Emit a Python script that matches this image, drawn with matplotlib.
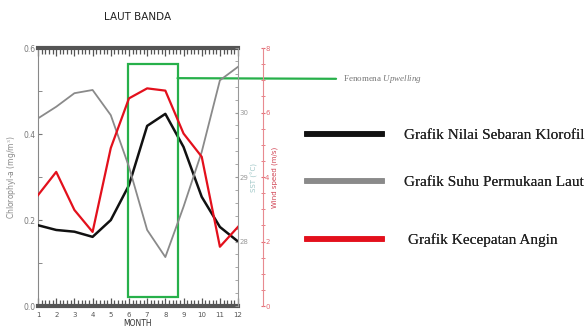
import matplotlib
matplotlib.use("Agg")
import matplotlib.pyplot as plt
from matplotlib.lines import Line2D
from matplotlib.patches import Rectangle
from matplotlib.ticker import MultipleLocator

plt.rcParams["mathtext.fontset"] = "custom"
plt.rcParams["mathtext.rm"] = "Liberation Serif"
plt.rcParams["mathtext.it"] = "Liberation Serif:italic"

# Monthly climatology, Laut Banda
months = [1, 2, 3, 4, 5, 6, 7, 8, 9, 10, 11, 12]
chl = [0.188, 0.177, 0.173, 0.161, 0.200, 0.281, 0.419, 0.447, 0.370, 0.254, 0.184, 0.150]
sst = [29.91, 30.09, 30.30, 30.35, 29.96, 29.16, 28.18, 27.76, 28.54, 29.39, 30.50, 30.71]
wind = [3.44, 4.16, 2.98, 2.30, 4.90, 6.44, 6.75, 6.68, 5.35, 4.63, 1.84, 2.46]

# upwelling window (months) and chl range of the highlight box
upwelling_months = (5.94, 8.67)
upwelling_chl = (0.021, 0.563)

legend_labels = ["Grafik Nilai Sebaran Klorofil", "Grafik Suhu Permukaan Laut",
                 "Grafik Kecepatan Angin"]
legend_colors = ["#111111", "#8a8a8a", "#e3101c"]

fig = plt.figure(figsize=(5.85, 3.36), dpi=100)
ax = fig.add_axes([0.065, 0.089, 0.342, 0.768])
ax2 = ax.twinx()
ax3 = ax.twinx()

ax.plot(months, chl, color="#111111", lw=1.8, zorder=3)
ax2.plot(months, sst, color="#8a8a8a", lw=1.3)
ax3.plot(months, wind, color="#e3101c", lw=1.6)

ax.set_xlim(1, 12)
ax.set_ylim(0, 0.6)
ax2.set_ylim(27, 31)
ax3.set_ylim(0, 8)

ax.set_xticks(months)
ax.xaxis.set_minor_locator(MultipleLocator(0.2))
ax.set_yticks([0.0, 0.2, 0.4, 0.6])
ax.yaxis.set_minor_locator(MultipleLocator(0.1))
ax.tick_params(axis="x", which="both", direction="in", top=True, bottom=True,
               colors="#555555", labelsize=5, pad=4)
ax.tick_params(axis="x", which="minor", length=4, width=0.9)
ax.tick_params(axis="x", which="major", length=6, width=0.9)
ax.tick_params(axis="y", which="both", direction="in", colors="#777777",
               labelsize=5.5, length=3, pad=2)
for s in ["top", "bottom"]:
    ax.spines[s].set_linewidth(3)
    ax.spines[s].set_color("#555555")
ax.spines["left"].set_color("#888888")
ax.spines["right"].set_visible(False)

ax2.set_yticks([28, 29, 30])
ax2.yaxis.set_minor_locator(MultipleLocator(0.2))
ax2.tick_params(axis="y", which="both", direction="in", colors="#9a9a9a",
                labelsize=5, length=2.5, pad=1)
for s in ["top", "bottom", "left"]:
    ax2.spines[s].set_visible(False)
ax2.spines["right"].set_color("#999999")
ax2.set_ylabel("SST (°C)", color="#9fc7c7", fontsize=5, rotation=90, labelpad=2)

ax3.spines["right"].set_position(("outward", 18))
ax3.spines["right"].set_color("#e88a90")
for s in ["top", "bottom", "left"]:
    ax3.spines[s].set_visible(False)
ax3.set_yticks([0, 2, 4, 6, 8])
ax3.yaxis.set_minor_locator(MultipleLocator(0.5))
ax3.tick_params(axis="y", which="both", direction="inout", colors="#e36a72",
                labelsize=5, length=3, pad=0)
ax3.set_ylabel("Wind speed (m/s)", color="#d04050", fontsize=5, rotation=90,
               labelpad=1)

ax.set_ylabel("Chlorophyl-a (mg/m$^3$)", color="#888888", fontsize=5.5, labelpad=4)
ax.set_xlabel("MONTH", fontsize=5.5, color="#333333", labelpad=1)
ax.set_title("LAUT BANDA", fontsize=7.5, color="#222222", pad=20,
             family="Liberation Sans Narrow")

x0, x1 = upwelling_months
y0, y1 = upwelling_chl
ax.add_patch(Rectangle((x0, y0), x1 - x0, y1 - y0, fill=False,
                       edgecolor="#27b04a", lw=1.6, zorder=5))
ax.annotate("Fenomena $\\it{Upwelling}$", xy=(x1, 0.530), xycoords="data",
            xytext=(343, 336 - 79), textcoords="figure pixels",
            fontsize=6.5, color="#777777", va="center", ha="left",
            family="Liberation Serif",
            arrowprops=dict(arrowstyle="-", color="#27b04a", lw=1.6,
                            shrinkA=3, shrinkB=0))

# one legend per entry so the uneven vertical spacing can be kept
legend_y = [1 - 135 / 336, 1 - 182 / 336, 1 - 240 / 336]
legend_x = [0.525, 0.525, 0.525]
legend_pad = [1.45, 1.45, 1.7]
for lab, col, lx, ly, pad in zip(legend_labels, legend_colors, legend_x,
                                 legend_y, legend_pad):
    leg = fig.legend([Line2D([], [], color=col, lw=4)], [lab],
                     loc="center left", bbox_to_anchor=(lx, ly),
                     frameon=False, borderpad=0, borderaxespad=0,
                     prop={"family": "Liberation Serif", "size": 11},
                     handlelength=4.9, handletextpad=pad,
                     labelcolor="#222222")
    fig.add_artist(leg)

fig.savefig("out.png", dpi=100)
